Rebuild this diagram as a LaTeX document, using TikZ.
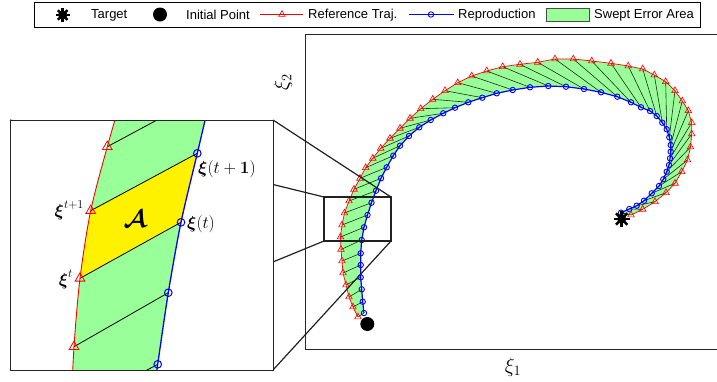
\documentclass[tikz,border=0pt]{standalone}
\usepackage{amsmath,amssymb}
\usepackage{fontspec}
\newfontfamily\legendfont{Liberation Sans}
\definecolor{swept}{rgb}{0.6,1,0.6}
\definecolor{zoomgray}{gray}{0.13}
\tikzset{
  reftraj/.style={red,line width=.7pt},
  reptraj/.style={blue,line width=1.2pt},
  connline/.style={black!85,line width=.6pt},
  sweptfill/.style={fill=swept},
  framebox/.style={draw=black!85,line width=.8pt},
  zoomline/.style={draw=zoomgray,line width=1.2pt},
  legtext/.style={anchor=west,inner sep=0pt,font=\legendfont\fontsize{13}{15}\selectfont},
  xilabel/.style={inner sep=0pt,font=\LARGE},
  refmark/.pic={\draw[red,line width=.65pt] (90:3.8pt)--(210:3.8pt)--(330:3.8pt)--cycle;},
  repmark/.pic={\draw[blue,line width=.9pt] (0,0) circle (2.7pt);},
  bigrefmark/.pic={\draw[red,line width=.8pt] (90:5.6pt)--(210:5.6pt)--(330:5.6pt)--cycle;},
  bigrepmark/.pic={\draw[blue,line width=1pt] (0,0) circle (3.8pt);},
  targetmark/.pic={\fill[black] (0,0) circle (4.6pt);
    \foreach \a in {0,45,...,315} \draw[black,line width=2.5pt] (0,0)--(\a:#1);},
  initmark/.pic={\fill[black] (0,0) circle (#1);}
}
% sampled points of both trajectories (x/y, y pointing down)
\def\refpts{358/317,353/307,349/297,346/285,343/273,342/261,341/249.5,340.5/237,342/225,344.5/213,349/201,354/189.3,360/178.3,365.7/167.7,372.7/158.3,380.7/148.3,390/138.3,400/128.3,410/118.3,420.7/108.7,432.7/99.3,445/90.7,457.7/82.7,471.7/76,486.7/71,502.7/66.7,520/64.3,537.7/62.3,555/59,573.3/59,591.7/61,611/63.3,628.3/66,642.7/69,654.3/75,665.7/81.7,675/90.7,682.3/101,688.3/110.7,691.7/122.7,691.7/134,690.5/147,687.5/160,681.7/171.7,675/183.3,666/192.7,655/201.7,642.7/209.3,631/215}
\def\reppts{364/313,362.7/301.7,361.7/289.3,360.7/277.3,360.7/265,360.7/253.3,361.7/240,364/227.3,367.5/215,371.5/202.7,376/190.7,381/178.3,386.7/167.3,393.3/155.7,400/145.7,409/136,419.3/127.3,430.7/120,443.3/113.3,455/107.7,468.3/102.3,482.3/97.7,496.7/93.3,512.7/90,530/87.3,548.3/86,566/86.7,584/89,601/92.3,617.3/96.7,631/102.3,641/107.3,650/111,656.7/116,662.3/122.7,666.7/129.3,669.3/137.3,670.7/145,670.7/151.7,670/158.3,669/165,666.7/171.7,663.3/179.3,659/186,651.7/193.3,644/200.7,636.7/205.7,629.3/209,621/212.7}

\begin{document}
\begin{tikzpicture}[x=1pt,y=-1pt]
  \useasboundingbox (0,0) rectangle (717,381);

  % legend
  \draw[line width=.8pt] (34,2.5) rectangle (700.5,27);
  \path (62.7,15) pic{targetmark=6.8pt};
  \node[legtext] (legtarget) at (91,15) {Target};
  \path (160,14.5) pic{initmark=7pt};
  \node[legtext] (leginit) at (186,15) {Initial Point};
  \draw[reftraj] (260,14.5)--(303,14.5);
  \path (282,14.5) pic{refmark};
  \node[legtext] (legref) at (308,15) {Reference Traj.};
  \draw[reptraj] (409,14.5)--(454,14.5);
  \path (431,14.5) pic{repmark};
  \node[legtext] (legrep) at (458,15) {Reproduction};
  \filldraw[sweptfill,draw=black!70,line width=.5pt] (546,8) rectangle (589,21);
  \node[legtext] (legswept) at (594,15) {Swept Error Area};

  % axes frame
  \draw[framebox] (725,34)--(305,34)--(305,349.3)--(725,349.3);
  \node[font=\huge] (xlab) at (513,367) {$\xi_1$};
  \node[font=\huge,rotate=90] (ylab) at (283,82) {$\xi_2$};

  % trajectories
  \foreach \x/\y [count=\i] in \refpts \coordinate (r\i) at (\x,\y);
  \foreach \x/\y [count=\i] in \reppts \coordinate (b\i) at (\x,\y);
  \fill[sweptfill] (r1) \foreach \i in {2,...,49}{--(r\i)} \foreach \i in {49,...,1}{--(b\i)} -- cycle;
  \foreach \i in {1,...,49} \draw[connline] (r\i)--(b\i);
  \draw[reftraj] (r1) \foreach \i in {2,...,49}{--(r\i)};
  \draw[reptraj] (b1) \foreach \i in {2,...,49}{--(b\i)};
  \foreach \i in {1,...,49} {
    \path (r\i) pic{refmark};
    \path (b\i) pic{repmark};
  }
  \path (621.7,219) pic{targetmark=8pt};
  \path (367.3,324) pic{initmark=7pt};

  % zoom window and its links
  \coordinate (wa) at (324,197); \coordinate (wb) at (391,197);
  \coordinate (wc) at (391,241); \coordinate (wd) at (324,241);
  \coordinate (za) at (10,120); \coordinate (zb) at (273,120);
  \coordinate (zc) at (273,370); \coordinate (zd) at (10,370);
  \foreach \p in {a,b,c,d} \draw[zoomline] (w\p)--(z\p);
  \draw[zoomline] (wa) rectangle (wc);
  \filldraw[fill=white,framebox,line width=1pt] (za) rectangle (zc);

  % magnified view
  \begin{scope}
    \clip (za) rectangle (zc);
    \coordinate (i0) at (126,82);
    \foreach \p/\x/\y in {1/107.3/146.7,2/90.7/210.7,3/80/278.3,4/74/346.7,5/71/411}
      \coordinate (ir\p) at (\x,\y);
    \foreach \p/\x/\y in {1/212/90.5,2/197.3/153.3,3/181/222.3,4/168.3/292.7,5/157.7/364.3,6/148/432}
      \coordinate (ib\p) at (\x,\y);
    \fill[sweptfill] plot[smooth] coordinates {(i0) (ir1) (ir2) (ir3) (ir4) (ir5)}
      -- plot[smooth] coordinates {(ib6) (ib5) (ib4) (ib3) (ib2) (ib1)} -- cycle;
    \fill[yellow] (ir3)--(ir2)--(ib2)--(ib3)--cycle;
    \foreach \i in {1,...,5} \draw[black,line width=.8pt] (ir\i)--(ib\i);
    \draw[red,line width=.9pt] plot[smooth] coordinates {(i0) (ir1) (ir2) (ir3) (ir4) (ir5)};
    \draw[blue,line width=1.3pt] plot[smooth] coordinates {(ib1) (ib2) (ib3) (ib4) (ib5) (ib6)};
    \foreach \i in {1,...,4} \path (ir\i) pic{bigrefmark};
    \foreach \i in {2,...,5} \path (ib\i) pic{bigrepmark};
  \end{scope}
  \draw[framebox,line width=1pt] (za) rectangle (zc);
  \node[xilabel,anchor=base east] (xinext) at (84,216) {$\boldsymbol{\xi}^{t+1}$};
  \node[xilabel,anchor=base east] (xinow) at (73,285) {$\boldsymbol{\xi}^{t}$};
  \node[xilabel,anchor=base west] (repnext) at (198,173) {$\boldsymbol{\xi}(t+\boldsymbol{1})$};
  \node[xilabel,anchor=base west] (repnow) at (187,228) {$\boldsymbol{\xi}(t)$};
  \node[font=\Huge] (area) at (135,219) {$\boldsymbol{\mathcal{A}}$};
\end{tikzpicture}
\end{document}
